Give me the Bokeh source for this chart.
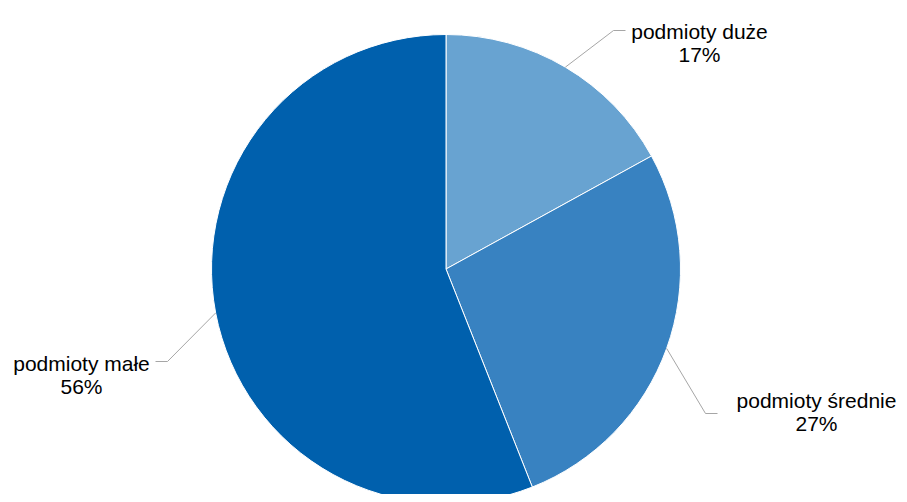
import math
from bokeh.plotting import figure
from bokeh.models import Range1d, ColumnDataSource
from bokeh.core.properties import value
from bokeh.embed import file_html
from bokeh.resources import INLINE

# ---- data ----
categories = ["podmioty duże", "podmioty średnie", "podmioty małe"]
shares = [17, 27, 56]
pct_labels = ["17%", "27%", "56%"]
colors = ["#68A3D1", "#3882C1", "#0060AD"]

# ---- layout (image pixel coordinates, y down) ----
IMG_H = 502
W, H = 899, 494
cx, cy_img, R = 445.5, 268.5, 234.5

def Y(iy):
    return IMG_H - iy

p = figure(width=W, height=H, output_backend="svg", toolbar_location=None,
           x_range=Range1d(0, W), y_range=Range1d(Y(H), Y(0)),
           min_border=0)
p.axis.visible = False
p.grid.visible = False
p.outline_line_color = None
p.background_fill_color = "white"
p.border_fill_color = "white"

total = float(sum(shares))
cum = 0.0
starts, ends, mids = [], [], []
for s in shares:
    a0 = math.pi / 2 - 2 * math.pi * (cum + s) / total
    a1 = math.pi / 2 - 2 * math.pi * cum / total
    starts.append(a0)
    ends.append(a1)
    mids.append((a0 + a1) / 2)
    cum += s

src = ColumnDataSource(dict(start=starts, end=ends, color=colors, cat=categories))
p.wedge(x=cx, y=Y(cy_img), radius=R, start_angle="start", end_angle="end",
        direction="anticlock", fill_color="color", line_color="white",
        line_width=1, source=src)

# leader lines: from pie edge at slice middle, to elbow, to end
elbows = [(613, 30), (705, 413), (167, 361)]
line_ends = [(625, 30), (717, 413), (155, 361)]
for m, (ex, ey), (lx, ly) in zip(mids, elbows, line_ends):
    sx = cx + R * math.cos(m)
    sy = Y(cy_img) + R * math.sin(m)
    p.line([sx, ex, lx], [sy, Y(ey), Y(ly)], line_color="#A6A6A6", line_width=1)

# labels
label_cx = [699, 816, 81]
label_b1 = [31, 400, 363]
label_b2 = [54, 423, 386]
p.text(x=label_cx, y=[Y(v) for v in label_b1], text=categories,
       text_font=value("Liberation Sans"), text_font_size=value("21px"),
       text_color="#000000", text_align="center", text_baseline="alphabetic")
p.text(x=label_cx, y=[Y(v) for v in label_b2], text=pct_labels,
       text_font=value("Liberation Sans"), text_font_size=value("21px"),
       text_color="#000000", text_align="center", text_baseline="alphabetic")

open("out.html", "w").write(file_html(p, INLINE))
